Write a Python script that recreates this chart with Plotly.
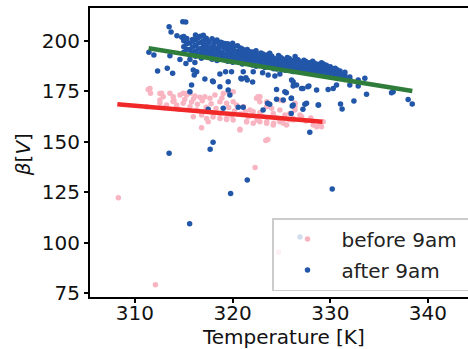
import plotly.graph_objects as go

# ---- data ----
before_T = [311.36,311.6,312.73,312.9,312.56,313.58,313.92,314.61,314.94,315.29,315.63,316.14,316.65,317.16,317.68,318.19,318.7,319.38,320.06,320.41,321.09,321.77,322.45,322.79,323.48,324.16,324.84,325.35,325.86,326.38,327.06,328.25,328.94,329.27,314.94,315.63,316.32,316.83,317.34,318.02,318.7,319.38,320.06,320.75,321.43,322.11,322.79,323.48,324.16,324.84,325.53,326.2,326.89,312.56,313.24,314.27,
            315.97,316.82,317.5,318.7,319.38,320.75,321.43,311.2,
            322.6,323.5,325.2,326.4,321.1,322.1,322.8,321.6,322.5,323.5,324.2,325.2,326.2,328.6,329.1,324.0,
            311.54,312.56,315.29,319.04,319.55,320.06,322.8,324.84,326.38,
            313.0,314.0,314.5,315.1,315.8,316.4,316.9,317.3,317.8,318.3,318.9,319.6,320.2,320.8,321.3,319.9,316.0,317.0,318.0,323.0,324.5,325.8,327.5,328.0,313.9,
            308.3,312.1,322.3,323.4,323.6,324.7]
before_beta = [176.0,174.1,174.1,172.4,170.7,174.1,172.4,173.2,174.1,173.2,174.1,172.7,172.1,172.4,171.6,173.2,169.9,169.1,169.9,168.3,167.4,165.8,171.6,169.9,167.4,164.1,165.8,163.3,164.1,165.8,162.5,158.3,159.2,160.0,169.1,167.4,165.8,163.3,161.6,164.1,164.1,161.6,160.8,155.9,160.0,159.2,160.0,159.2,158.3,160.0,158.3,161.6,163.3,169.1,168.3,168.3,
               162.5,157.0,160.0,161.6,161.1,156.2,160.0,167.4,
               172.4,169.9,170.4,169.1,167.4,165.0,164.5,162.5,160.8,160.0,159.2,159.2,160.8,157.5,157.5,166.6,
               176.5,174.0,174.0,174.0,174.9,174.9,172.4,170.7,167.4,
               166.9,170.5,166.2,171.0,169.7,168.6,170.4,167.2,168.9,166.5,171.8,167.0,165.3,163.8,164.9,163.0,171.4,165.0,162.3,162.7,162.0,161.0,160.3,161.8,170.0,
               122.3,79.1,137.2,150.6,151.2,95.2]

after_T = [314.9,315.2,313.5,313.7,
           314.3,314.8,315.3,315.9,316.4,316.7,317.0,317.4,317.9,318.3,318.8,319.2,
           315.0,315.0,315.0,315.0,
           315.6,315.6,315.6,
           316.2,316.2,316.2,316.2,316.2,
           316.8,316.8,316.8,316.8,
           317.3,317.3,317.3,317.3,
           317.9,317.9,317.9,317.9,
           318.4,318.4,318.4,318.4,318.4,
           318.9,318.9,318.9,318.9,
           319.5,319.5,319.5,319.5,
           320.0,320.0,320.0,320.0,320.0,
           320.5,320.5,320.5,320.5,
           321.0,321.0,321.0,321.0,
           321.5,321.5,321.5,321.5,
           322.0,322.0,322.0,322.0,
           322.4,322.4,322.4,322.4,322.4,
           322.9,322.9,322.9,322.9,
           323.3,323.3,323.3,323.3,
           323.8,323.8,323.8,323.8,323.8,
           324.2,324.2,324.2,324.2,
           324.7,324.7,324.7,324.7,
           325.1,325.1,325.1,325.1,
           325.6,325.6,325.6,325.6,
           326.0,326.0,326.0,326.0,
           326.4,326.4,326.4,326.4,326.4,
           326.9,326.9,326.9,326.9,
           327.3,327.3,327.3,327.3,
           327.8,327.8,327.8,327.8,
           328.2,328.2,328.2,328.2,
           328.7,328.7,328.7,328.7,
           329.1,329.1,329.1,329.1,
           329.6,329.6,329.6,329.6,
           330.0,330.0,330.0,330.0,
           330.5,330.5,330.5,
           331.0,331.0,331.0,
           331.5,331.5,331.5,
           332.0,332.0,
           315.3,315.3,315.3,
           315.9,315.9,315.9,
           316.5,316.5,316.5,316.5,
           317.0,317.0,317.0,317.0,
           317.6,317.6,317.6,317.6,
           318.1,318.1,318.1,318.1,
           318.6,318.6,318.6,318.6,
           319.2,319.2,319.2,319.2,
           319.7,319.7,319.7,319.7,
           320.2,320.2,320.2,320.2,
           320.8,320.8,320.8,320.8,
           321.2,321.2,321.2,321.2,
           321.7,321.7,321.7,321.7,
           322.2,322.2,322.2,322.2,
           322.7,322.7,322.7,322.7,
           323.1,323.1,323.1,323.1,
           323.6,323.6,323.6,323.6,
           324.0,324.0,324.0,324.0,
           324.5,324.5,324.5,324.5,
           324.9,324.9,324.9,324.9,
           325.4,325.4,325.4,325.4,
           325.8,325.8,325.8,325.8,
           326.2,326.2,326.2,326.2,
           326.7,326.7,326.7,326.7,
           327.1,327.1,327.1,327.1,
           327.5,327.5,327.5,327.5,
           328.0,328.0,328.0,328.0,
           328.4,328.4,328.4,328.4,
           328.9,328.9,328.9,
           329.3,329.3,329.3,329.3,
           329.8,329.8,329.8,
           330.2,330.2,330.2,
           330.7,330.7,330.7,
           331.2,331.2,
           311.43,311.94,312.32,313.31,313.86,313.58,314.61,315.22,315.63,316.14,315.97,316.32,316.07,317.16,318.02,318.7,319.28,319.55,319.89,319.72,315.63,315.8,317.5,319.04,320.58,321.09,320.92,321.5,322.05,321.09,322.11,323.07,323.64,324.33,324.84,324.5,325.35,326.04,326.2,325.18,326.03,326.1,326.55,327.06,327.81,328.6,329.78,330.3,330.64,331.05,331.21,332.42,333.71,333.54,332.0,332.86,332.86,336.27,336.44,337.97,338.39,323.58,323.8,323.12,
           318.7,319.55,320.85,321.36,317.95,
           325.5,326.2,327.2,327.7,324.5,326.0,326.2,327.2,327.4,328.8,326.0,327.57,328.76,
           313.5,318.0,317.7,321.5,319.8,315.6,327.9,330.2,326.9]
after_beta = [209.6,209.5,207.1,204.5,
              202.6,201.9,201.3,200.8,201.7,202.4,202.9,200.5,201.2,200.0,199.4,198.8,
              194.5,197.2,200.1,202.3,
              193.1,195.8,199.0,
              192.4,194.9,197.8,200.6,203.0,
              191.5,194.0,196.3,199.4,
              193.2,195.7,198.2,201.4,
              191.0,192.6,194.8,197.1,
              190.4,193.6,195.9,199.8,200.5,
              191.8,194.2,197.0,199.2,
              190.0,192.5,195.3,198.6,
              189.5,191.3,193.8,196.4,198.9,
              190.4,192.8,195.0,197.7,
              188.6,190.9,193.4,196.0,
              189.6,191.7,194.1,195.8,
              188.1,189.9,192.3,194.6,
              187.5,190.5,191.8,193.7,195.2,
              188.7,190.1,192.6,194.1,
              186.9,189.2,191.0,193.0,
              187.8,188.9,190.6,192.4,194.0,
              186.3,188.1,190.0,191.5,
              187.2,188.8,190.9,192.8,
              185.9,187.5,189.4,191.2,
              186.6,188.3,189.7,191.9,
              185.3,186.9,188.6,190.4,
              186.1,187.6,189.3,190.9,192.3,
              184.8,186.4,188.0,189.6,
              185.6,187.1,188.7,190.5,
              184.2,185.9,187.4,189.1,
              185.0,186.6,188.2,190.0,
              183.7,185.3,186.9,188.5,
              184.5,186.0,187.6,189.2,
              183.2,184.8,186.4,188.0,
              182.6,184.1,185.7,187.3,
              183.4,185.0,186.5,
              182.0,183.6,185.2,
              181.4,182.9,184.5,
              180.9,182.2,
              195.9,198.6,201.2,
              194.4,197.0,199.9,
              193.6,196.2,199.0,201.8,
              192.3,194.8,197.4,200.2,
              192.0,194.3,196.5,199.3,
              191.7,193.9,196.8,198.9,
              191.2,192.9,194.9,197.6,
              190.7,193.3,196.0,198.0,
              190.9,192.0,194.4,197.2,
              190.1,192.4,194.9,197.4,
              189.4,191.5,194.0,196.5,
              189.8,192.2,193.6,195.3,
              188.7,190.7,192.9,194.8,
              188.9,191.0,193.1,194.3,
              187.9,189.3,191.4,193.1,
              188.0,189.9,191.7,193.6,
              187.2,189.5,191.2,193.2,
              187.1,188.6,190.7,192.6,
              186.1,187.6,189.6,191.0,
              186.4,188.2,190.0,192.0,
              185.5,187.0,188.9,190.6,
              185.8,187.8,189.5,191.3,
              184.9,186.5,188.0,189.9,
              185.5,187.2,188.9,190.7,
              184.5,186.1,187.8,189.5,
              185.0,186.6,188.1,189.9,
              184.6,186.2,187.9,189.4,
              184.0,185.7,187.5,189.0,
              183.6,185.5,187.2,
              183.9,185.6,186.9,188.6,
              183.5,185.3,187.0,
              182.9,184.6,186.2,
              182.4,184.0,185.8,
              182.3,183.2,
              194.4,193.1,185.1,186.5,184.0,192.7,190.9,188.9,190.9,189.3,185.6,184.8,183.1,181.2,179.8,183.6,184.8,179.8,184.8,173.2,174.9,178.2,166.1,166.6,167.1,167.1,181.2,180.7,179.7,184.8,184.8,184.3,183.1,182.6,183.6,176.0,174.9,180.7,179.8,170.7,171.6,167.8,178.2,176.5,177.7,175.7,176.0,176.5,178.2,168.8,166.3,170.2,173.6,181.5,178.2,180.7,177.7,174.4,174.9,171.0,168.8,169.1,168.6,165.8,
              177.3,175.7,181.5,181.8,180.2,
              174.4,177.7,176.5,177.3,171.1,171.6,168.3,166.1,168.7,168.3,164.1,169.1,168.3,
              144.3,149.8,146.3,131.0,124.4,109.4,154.7,126.6,102.8]

fit_before_T = [308.2, 329.2]
fit_before_beta = [168.6, 160.0]
fit_after_T = [311.4, 338.4]
fit_after_beta = [196.4, 175.2]

x_ticks = [310, 320, 330, 340]
y_ticks = [75, 100, 125, 150, 175, 200]

FONT = "DejaVu Sans, sans-serif"

fig = go.Figure()
fig.add_trace(go.Scatter(x=before_T, y=before_beta, mode="markers", name="before 9am\u00a0",
                         legendgroup="a",
                         marker=dict(color="#f8b4c1", size=5.5, line=dict(width=0))))
fig.add_trace(go.Scatter(x=after_T, y=after_beta, mode="markers", name="after 9am",
                         legendgroup="b",
                         marker=dict(color="#2256a8", size=5.5, line=dict(width=0))))
fig.add_trace(go.Scatter(x=fit_before_T, y=fit_before_beta, mode="lines", showlegend=False,
                         line=dict(color="#f02828", width=4.5)))
fig.add_trace(go.Scatter(x=fit_after_T, y=fit_after_beta, mode="lines", showlegend=False,
                         line=dict(color="#2e7d3b", width=4.5)))

fig.update_layout(
    width=468, height=349,
    margin=dict(l=90, r=0, t=8, b=52, autoexpand=False),
    paper_bgcolor="white", plot_bgcolor="white",
    font=dict(family=FONT, size=20, color="#111111"),
    showlegend=True,
    legend=dict(x=0.4815, y=0.273, xanchor="left", yanchor="top",
                bgcolor="rgba(255,255,255,0.8)", bordercolor="#cccccc", borderwidth=1.5,
                font=dict(family=FONT, size=20, color="#222222"), itemwidth=58,
                traceorder="grouped", tracegroupgap=2),
    annotations=[
        dict(text="Temperature [K]", xref="paper", yref="paper", x=0.513, y=-0.14,
             xanchor="center", yanchor="middle", showarrow=False,
             font=dict(family=FONT, size=20, color="#111111")),
        dict(text="<i>β</i>[<i>V</i>]", xref="paper", yref="paper", x=-0.177, y=0.491,
             xanchor="center", yanchor="middle", showarrow=False, textangle=-90,
             font=dict(family=FONT, size=20, color="#111111")),
    ],
)
fig.update_xaxes(range=[305.4, 344.1], tickvals=x_ticks, automargin=False,
                 showline=True, linecolor="black", linewidth=2, mirror=True,
                 ticks="outside", ticklen=4, tickwidth=1.5, tickcolor="black",
                 showgrid=False, zeroline=False, ticklabelstandoff=-7,
                 tickfont=dict(family=FONT, size=20))
fig.update_yaxes(range=[73.0, 216.4], tickvals=y_ticks, automargin=False,
                 showline=True, linecolor="black", linewidth=2, mirror=False,
                 ticks="outside", ticklen=4, tickwidth=1.5, tickcolor="black",
                 showgrid=False, zeroline=False,
                 tickfont=dict(family=FONT, size=20))

fig.write_html("out.html", config={"displayModeBar": False},
               post_script="document.body.style.margin='0';")
